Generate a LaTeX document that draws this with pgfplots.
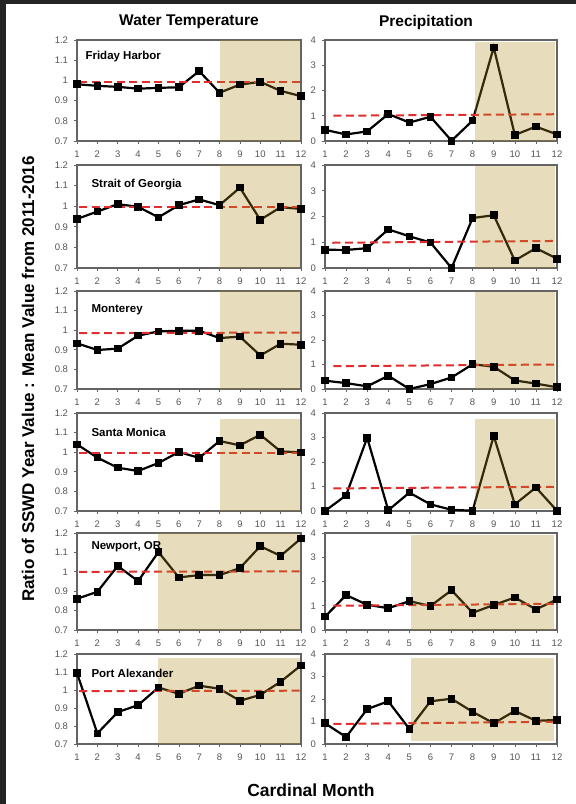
\documentclass[border=0pt]{standalone}
\usepackage{pgfplots}
\pgfplotsset{compat=1.18}
\usepackage{fontspec}
\setmainfont{Liberation Sans}

\definecolor{shadetan}{RGB}{178,140,30}
\definecolor{refred}{RGB}{225,45,45}
\definecolor{framegray}{RGB}{100,100,100}
\definecolor{ticktext}{RGB}{85,85,85}

\pgfplotsset{
  common/.style={
    scale only axis, anchor=south west, clip=false,
    xmin=1, xmax=12, xtick={1,...,12},
    axis line style={framegray, line width=1.3pt},
    tick style={framegray, line width=0.6pt},
    tick align=outside, major tick length=3pt,
    xtick pos=left, ytick pos=left,
    ticklabel style={font=\fontsize{9.5}{10}\selectfont, text=ticktext},
    xticklabel style={yshift=-3pt},
    yticklabel style={xshift=-2.5pt},
    /pgf/number format/assume math mode=true,
  },
  temp/.style 2 args={common, at={(77pt,#1pt)}, width=224pt, height=#2pt,
    ymin=0.7, ymax=1.2, ytick={0.7,0.8,0.9,1,1.1,1.2}},
  precip/.style 2 args={common, at={(325pt,#1pt)}, width=232pt, height=#2pt,
    ymin=0, ymax=4, ytick={0,1,2,3,4}},
  series/.style={black, line width=2.2pt, mark=square*, mark size=2.7pt},
  ref/.style={refred, line width=2pt, dash pattern=on 8pt off 4.5pt},
}
\tikzset{
  shade/.style={fill=shadetan, fill opacity=0.3},
  site/.style={anchor=base west, font=\bfseries\fontsize{11.5}{12}\selectfont},
}

% #1 bottom, #2 height, #3 site, #4 values, #5 mean line, #6 shaded months, #7 label xshift, #8 label yshift
\newcommand{\tpanel}[8]{%
  \begin{axis}[temp={#1}{#2}]
    \addplot[series] coordinates {#4};
    \addplot[ref] coordinates {#5};
    \fill[shade] #6;
    \node[site, xshift=#7pt, yshift=#8pt] at (rel axis cs:0,1) {#3};
  \end{axis}}
% #1 bottom, #2 height, #3 values, #4 mean line, #5 shaded months
\newcommand{\ppanel}[5]{%
  \begin{axis}[precip={#1}{#2}]
    \addplot[series] coordinates {#3};
    \addplot[ref] coordinates {#4};
    \fill[shade] #5;
  \end{axis}}

\begin{document}
\begin{tikzpicture}
  % page background with dark edge
  \fill[black!86] (0,0) rectangle (576pt,804pt);
  \fill[white] (6pt,0) rectangle (576pt,800pt);

  % ---------------- Water temperature ----------------
  \tpanel{663}{101}{Friday Harbor}
    {(1,0.981) (2,0.973) (3,0.968) (4,0.959) (5,0.963) (6,0.966) (7,1.046) (8,0.939) (9,0.979) (10,0.993) (11,0.948) (12,0.922)}
    {(1.1,0.990) (12,0.990)}
    {(axis cs:8,0.7) rectangle (axis cs:11.95,1.2)}{5}{-20}
  \tpanel{536}{103}{Strait of Georgia}
    {(1,0.938) (2,0.974) (3,1.010) (4,0.997) (5,0.946) (6,1.005) (7,1.033) (8,1.005) (9,1.090) (10,0.934) (11,0.995) (12,0.987)}
    {(1.1,0.995) (12,0.995)}
    {(axis cs:8,0.7) rectangle (axis cs:11.95,1.2)}{11}{-23}
  \tpanel{415}{98}{Monterey}
    {(1,0.933) (2,0.899) (3,0.906) (4,0.972) (5,0.994) (6,0.997) (7,0.997) (8,0.960) (9,0.967) (10,0.871) (11,0.931) (12,0.926)}
    {(1.1,0.985) (12,0.988)}
    {(axis cs:8,0.7) rectangle (axis cs:11.95,1.2)}{11}{-22}
  \tpanel{293}{98}{Santa Monica}
    {(1,1.040) (2,0.972) (3,0.921) (4,0.904) (5,0.945) (6,1.001) (7,0.971) (8,1.057) (9,1.035) (10,1.089) (11,1.004) (12,0.999)}
    {(1.1,0.998) (12,0.998)}
    {(axis cs:8,0.7) rectangle (axis cs:11.95,1.17)}{11}{-24}
  \tpanel{174}{97}{Newport, OR}
    {(1,0.861) (2,0.897) (3,1.030) (4,0.952) (5,1.102) (6,0.971) (7,0.983) (8,0.983) (9,1.019) (10,1.132) (11,1.082) (12,1.172)}
    {(1.1,1.000) (12,1.002)}
    {(axis cs:5,0.7) rectangle (axis cs:11.95,1.2)}{11}{-17}
  \tpanel{60}{90}{Port Alexander}
    {(1,1.094) (2,0.759) (3,0.877) (4,0.916) (5,1.014) (6,0.979) (7,1.024) (8,1.007) (9,0.940) (10,0.973) (11,1.046) (12,1.137)}
    {(1.1,0.994) (12,0.996)}
    {(axis cs:5,0.7) rectangle (axis cs:11.95,1.18)}{11}{-23}

  % ---------------- Precipitation ----------------
  \ppanel{663}{101}
    {(1,0.44) (2,0.26) (3,0.38) (4,1.07) (5,0.73) (6,0.96) (7,0.01) (8,0.81) (9,3.71) (10,0.24) (11,0.57) (12,0.26)}
    {(1.4,1.00) (11.9,1.06)}
    {(axis cs:8.1,0) rectangle (axis cs:11.9,3.93)}
  \ppanel{536}{103}
    {(1,0.71) (2,0.70) (3,0.77) (4,1.50) (5,1.23) (6,0.99) (7,0.00) (8,1.94) (9,2.05) (10,0.29) (11,0.77) (12,0.36)}
    {(1.35,0.98) (11.9,1.05)}
    {(axis cs:8.1,0) rectangle (axis cs:11.9,3.95)}
  \ppanel{415}{98}
    {(1,0.34) (2,0.24) (3,0.11) (4,0.54) (5,0.00) (6,0.20) (7,0.47) (8,1.01) (9,0.91) (10,0.35) (11,0.22) (12,0.07)}
    {(1.4,0.93) (11.9,1.00)}
    {(axis cs:8.1,0) rectangle (axis cs:11.9,3.95)}
  \ppanel{293}{98}
    {(1,0.00) (2,0.64) (3,2.99) (4,0.03) (5,0.75) (6,0.27) (7,0.05) (8,0.01) (9,3.07) (10,0.27) (11,0.96) (12,0.01)}
    {(1.4,0.92) (11.9,0.99)}
    {(axis cs:8.1,0.1) rectangle (axis cs:11.9,3.77)}
  \ppanel{174}{97}
    {(1,0.55) (2,1.44) (3,1.04) (4,0.90) (5,1.19) (6,0.99) (7,1.64) (8,0.71) (9,1.03) (10,1.34) (11,0.85) (12,1.26)}
    {(1.4,1.00) (11.9,1.08)}
    {(axis cs:5.1,0) rectangle (axis cs:11.85,3.9)}
  \ppanel{60}{90}
    {(1,0.92) (2,0.31) (3,1.55) (4,1.90) (5,0.67) (6,1.90) (7,2.01) (8,1.43) (9,0.92) (10,1.47) (11,1.03) (12,1.07)}
    {(1.4,0.89) (11.9,0.99)}
    {(axis cs:5.1,0.15) rectangle (axis cs:11.85,3.82)}

  % ---------------- Titles and axis labels ----------------
  \node[font=\bfseries\fontsize{15.5}{16}\selectfont] at (189pt,782pt) {Water Temperature};
  \node[font=\bfseries\fontsize{15.5}{16}\selectfont] at (426pt,782pt) {Precipitation};
  \node[font=\bfseries\fontsize{17}{18}\selectfont, rotate=90] at (28pt,425pt)
    {Ratio of SSWD Year Value : Mean Value from 2011-2016};
  \node[font=\bfseries\fontsize{17.5}{18}\selectfont] at (311pt,14pt) {Cardinal Month};
\end{tikzpicture}
\end{document}
